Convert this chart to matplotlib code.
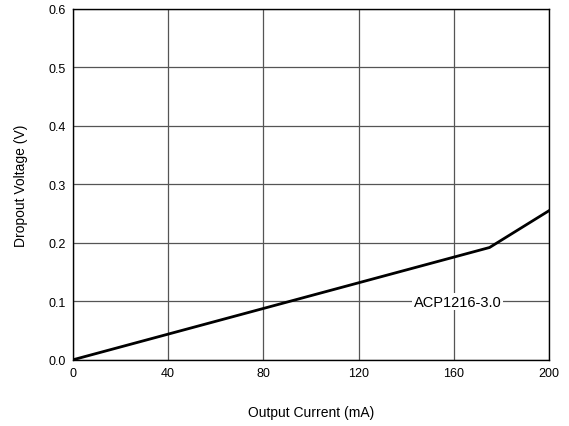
import matplotlib
matplotlib.use("Agg")
import matplotlib.pyplot as plt

plt.rcParams['font.family'] = ['Liberation Sans', 'DejaVu Sans']

current_ma = [0, 175, 200]
dropout_v = [0.0, 0.192, 0.255]
x_ticks = [0, 40, 80, 120, 160, 200]
y_ticks = [0.0, 0.1, 0.2, 0.3, 0.4, 0.5, 0.6]
series_label = "ACP1216-3.0"

fig = plt.figure(figsize=(5.69, 4.27), dpi=100)
ax = fig.add_axes([0.128, 0.155, 0.837, 0.822])
ax.plot(current_ma, dropout_v, color='black', lw=2.0, zorder=3)
ax.set_xlim(0, 200)
ax.set_ylim(0, 0.6)
ax.set_xticks(x_ticks)
ax.set_yticks(y_ticks)
ax.set_yticklabels([f"{v:.1f}" for v in y_ticks])
ax.grid(True, color='#555555', lw=0.9)
ax.tick_params(length=0, labelsize=9, pad=5)
for s in ax.spines.values():
    s.set_linewidth(1.0)
    s.set_color('black')
ax.set_xlabel("Output Current (mA)", fontsize=10, labelpad=19)
ax.set_ylabel("Dropout Voltage (V)", fontsize=10, labelpad=15)
ax.text(161.5, 0.099, series_label, ha='center', va='center', fontsize=10.5,
        bbox=dict(facecolor='white', edgecolor='none', pad=1), zorder=4)
fig.savefig("out.png", dpi=100)
